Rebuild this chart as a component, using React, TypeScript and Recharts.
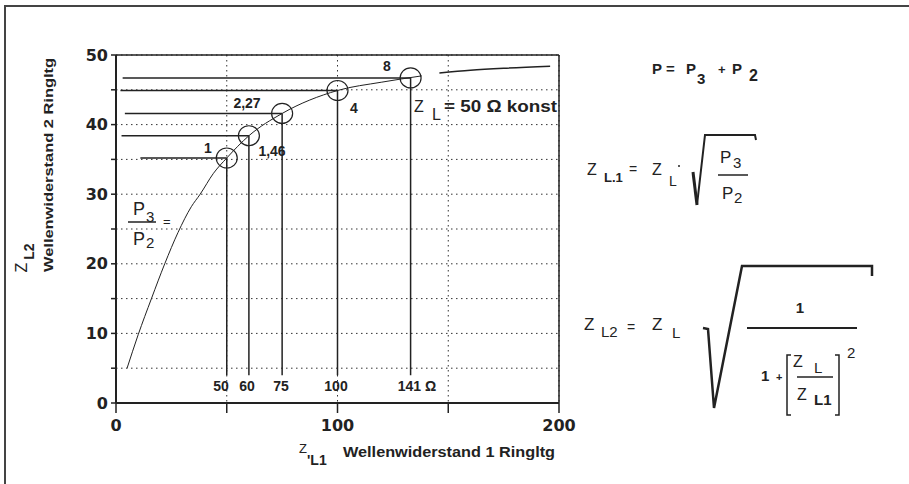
import React from "react";
import {
  CartesianGrid,
  ComposedChart,
  Line,
  ReferenceLine,
  Scatter,
  XAxis,
  YAxis,
} from "recharts";

type Pt = { x: number; y: number };

// Z_L2 over Z_L1 (Z_L = 50 Ohm)
const curveLow: Pt[] = [
  { x: 5, y: 5 },
  { x: 10, y: 9.8 },
  { x: 16, y: 15 },
  { x: 22, y: 20 },
  { x: 28, y: 24.5 },
  { x: 34, y: 28.2 },
  { x: 38, y: 30 },
  { x: 44, y: 33 },
  { x: 50, y: 35.2 },
  { x: 60, y: 38.4 },
  { x: 75, y: 41.6 },
  { x: 100, y: 44.9 },
  { x: 120, y: 46.1 },
  { x: 138, y: 47 },
];
const curveHigh: Pt[] = [
  { x: 146, y: 47.4 },
  { x: 160, y: 47.8 },
  { x: 175, y: 48.1 },
  { x: 196, y: 48.4 },
];

// operating points (circles)
const markers: Pt[] = [
  { x: 50, y: 35.2 },
  { x: 60, y: 38.4 },
  { x: 75, y: 41.6 },
  { x: 100, y: 44.9 },
  { x: 133, y: 46.7 },
];
// where the horizontal guide lines start
const guideStartX = [11, 2.5, 4, 2, 3];
const guideBottomY = 4;

const xTicks = [0, 50, 100, 150, 200];
const xLabels = ["0", "", "100", "", "200"];
const yTicks = [0, 5, 10, 15, 20, 25, 30, 35, 40, 45, 50];

const ratioLabels = ["1", "1,46", "2,27", "4", "8"];
const zLabels = ["50", "60", "75", "100", "141 Ω"];

const INK = "#222";
const SANS = "'Liberation Sans', Arial, sans-serif";
const TICK_FONT = "'DejaVu Sans', sans-serif";

const Ring = (props: any) => {
  const { cx, cy } = props;
  if (cx == null || cy == null) return null;
  return (
    <ellipse cx={cx} cy={cy} rx={10.5} ry={10} fill="none" stroke={INK} strokeWidth={1.2} />
  );
};

const Overlay = () => {
  const b = { fontFamily: SANS, fontWeight: 700, fill: INK } as const;
  const r = { fontFamily: SANS, fill: INK } as const;
  // label spots next to the circles / under the drop lines
  const ratioPos = [
    [208, 153],
    [272, 156],
    [247, 108],
    [354, 113],
    [387, 71],
  ];
  const zPos = [221, 247, 281, 336, 417];
  return (
    <svg
      width={909}
      height={484}
      style={{ position: "absolute", left: 0, top: 0, pointerEvents: "none" }}
    >
      {/* frame */}
      <path d="M5,484 L5,6 L909,6" fill="none" stroke="#444" strokeWidth={2} />

      {ratioLabels.map((t, i) => (
        <text key={t} x={ratioPos[i][0]} y={ratioPos[i][1]} textAnchor="middle" fontSize={14} {...b}>
          {t}
        </text>
      ))}
      {zLabels.map((t, i) => (
        <text key={t} x={zPos[i]} y={391} textAnchor="middle" fontSize={14} {...b}>
          {t}
        </text>
      ))}

      {/* Z_L = 50 Ω konst */}
      <text x={414} y={112} fontSize={16} {...r}>Z</text>
      <text x={432} y={120} fontSize={16} {...r}>L</text>
      <text x={444} y={112} fontSize={16} textLength={113} lengthAdjust="spacingAndGlyphs" {...b}>
        = 50 Ω konst
      </text>

      {/* P3/P2 = */}
      <text x={133} y={215} fontSize={18} {...r}>P</text>
      <text x={146} y={222} fontSize={15} {...r}>3</text>
      <line x1={128} y1={222} x2={156} y2={222} stroke={INK} strokeWidth={1.5} />
      <text x={163} y={226} fontSize={13} {...r}>=</text>
      <text x={133} y={245} fontSize={18} {...r}>P</text>
      <text x={146} y={248} fontSize={15} {...r}>2</text>

      {/* y axis title */}
      <text transform="translate(27,258) rotate(-90)" fontSize={16} textAnchor="middle" {...r}>
        Z
        <tspan fontSize={14} fontWeight={700} dx={3} dy={7}>L2</tspan>
      </text>
      <text
        transform="translate(53,165) rotate(-90)"
        fontSize={13}
        textAnchor="middle"
        textLength={214}
        lengthAdjust="spacingAndGlyphs"
        {...b}
      >
        Wellenwiderstand 2 Ringltg
      </text>

      {/* x axis title */}
      <text x={299} y={453} fontSize={13} {...r}>Z</text>
      <text x={307} y={465} fontSize={14} {...b}>'L1</text>
      <text x={343} y={457} fontSize={14} textLength={212} lengthAdjust="spacingAndGlyphs" {...b}>
        Wellenwiderstand 1 Ringltg
      </text>

      {/* P = P3 + P2 */}
      <text x={652} y={74} fontSize={15} {...b}>P</text>
      <text x={666} y={74} fontSize={15} {...b}>=</text>
      <text x={686} y={74} fontSize={15} {...b}>P</text>
      <text x={697} y={84} fontSize={15} {...b}>3</text>
      <text x={718} y={74} fontSize={13} {...b}>+</text>
      <text x={732} y={74} fontSize={15} {...b}>P</text>
      <text x={749} y={81} fontSize={16} {...b}>2</text>

      {/* Z_L1 = Z_L * sqrt(P3/P2) */}
      <text x={587} y={175} fontSize={16} {...r}>Z</text>
      <text x={604} y={182} fontSize={13} {...b}>L.1</text>
      <text x={629} y={174} fontSize={14} {...r}>=</text>
      <text x={652} y={175} fontSize={16} {...r}>Z</text>
      <text x={669} y={186} fontSize={14} {...r}>L</text>
      <circle cx={679} cy={166} r={1} fill={INK} />
      <path d="M693,172 L697,205" stroke={INK} strokeWidth={3} fill="none" />
      <path d="M697,205 L705,135 L755,135 L756,140" stroke={INK} strokeWidth={2} fill="none" />
      <text x={720} y={163} fontSize={17} {...r}>P</text>
      <text x={733} y={168} fontSize={15} {...r}>3</text>
      <line x1={718} y1={175} x2={748} y2={175} stroke={INK} strokeWidth={1.5} />
      <text x={722} y={199} fontSize={17} {...r}>P</text>
      <text x={734} y={203} fontSize={15} {...r}>2</text>

      {/* Z_L2 = Z_L * sqrt(1 / (1 + (Z_L/Z_L1)^2)) */}
      <text x={584} y={330} fontSize={17} {...r}>Z</text>
      <text x={601} y={337} fontSize={15} {...r}>L2</text>
      <text x={627} y={332} fontSize={14} {...r}>=</text>
      <text x={652} y={330} fontSize={17} {...r}>Z</text>
      <text x={672} y={338} fontSize={15} {...r}>L</text>
      <path
        d="M703,328 L708,329 L714,408 L742,266 L872,266 L872,276"
        stroke={INK}
        strokeWidth={2.5}
        fill="none"
      />
      <text x={800} y={313} fontSize={15} textAnchor="middle" {...b}>1</text>
      <line x1={747} y1={328} x2={857} y2={328} stroke={INK} strokeWidth={2} />
      <text x={761} y={381} fontSize={15} {...b}>1</text>
      <text x={776} y={381} fontSize={11} {...b}>+</text>
      <path d="M791,355 L787,355 L787,415 L791,415" stroke={INK} strokeWidth={1.5} fill="none" />
      <path d="M835,355 L839,355 L839,415 L835,415" stroke={INK} strokeWidth={1.5} fill="none" />
      <text x={793} y={367} fontSize={16} {...r}>Z</text>
      <text x={814} y={373} fontSize={15} {...r}>L</text>
      <line x1={797} y1={377} x2={833} y2={377} stroke={INK} strokeWidth={1.5} />
      <text x={797} y={400} fontSize={16} {...r}>Z</text>
      <text x={814} y={405} fontSize={15} {...b}>L1</text>
      <text x={847} y={358} fontSize={15} {...r}>2</text>
    </svg>
  );
};

export default function App() {
  const tickStyle = { fontFamily: TICK_FONT, fontSize: 16, fontWeight: 700, fill: INK };
  return (
    <div style={{ position: "absolute", left: 0, top: 0, width: 909, height: 484, background: "#fff" }}>
      <ComposedChart
        width={909}
        height={484}
        margin={{ top: 55, right: 350, bottom: 51, left: 76 }}
      >
        <CartesianGrid stroke="#333" strokeDasharray="1.5 3.5" />
        <XAxis
          type="number"
          dataKey="x"
          domain={[0, 200]}
          ticks={xTicks}
          interval={0}
          height={30}
          tickSize={10}
          tickMargin={7}
          tickFormatter={(v: number) => xLabels[xTicks.indexOf(v)] ?? ""}
          tick={tickStyle}
          axisLine={{ stroke: INK, strokeWidth: 2 }}
          tickLine={{ stroke: INK, strokeWidth: 1.5 }}
          allowDataOverflow
        />
        <YAxis
          type="number"
          domain={[0, 50]}
          ticks={yTicks}
          interval={0}
          width={40}
          tickSize={5}
          tickMargin={3}
          tickFormatter={(v: number) => (v % 10 === 0 ? String(v) : "")}
          tick={tickStyle}
          axisLine={{ stroke: INK, strokeWidth: 2 }}
          tickLine={{ stroke: INK, strokeWidth: 1.5 }}
          allowDataOverflow
        />
        <ReferenceLine y={50} stroke={INK} strokeWidth={1.5} />
        <ReferenceLine x={200} stroke={INK} strokeWidth={1.5} />
        {markers.map((m, i) => (
          <ReferenceLine
            key={"h" + i}
            segment={[
              { x: guideStartX[i], y: m.y },
              { x: m.x, y: m.y },
            ]}
            stroke={INK}
            strokeWidth={1.5}
          />
        ))}
        {markers.map((m, i) => (
          <ReferenceLine
            key={"v" + i}
            segment={[
              { x: m.x, y: guideBottomY },
              { x: m.x, y: m.y },
            ]}
            stroke={INK}
            strokeWidth={1.5}
          />
        ))}
        <Line
          data={curveLow}
          dataKey="y"
          type="monotone"
          stroke={INK}
          strokeWidth={1}
          dot={false}
          isAnimationActive={false}
        />
        <Line
          data={curveHigh}
          dataKey="y"
          type="monotone"
          stroke={INK}
          strokeWidth={1.5}
          dot={false}
          isAnimationActive={false}
        />
        <Scatter data={markers} dataKey="y" shape={Ring} isAnimationActive={false} />
      </ComposedChart>
      <Overlay />
    </div>
  );
}
